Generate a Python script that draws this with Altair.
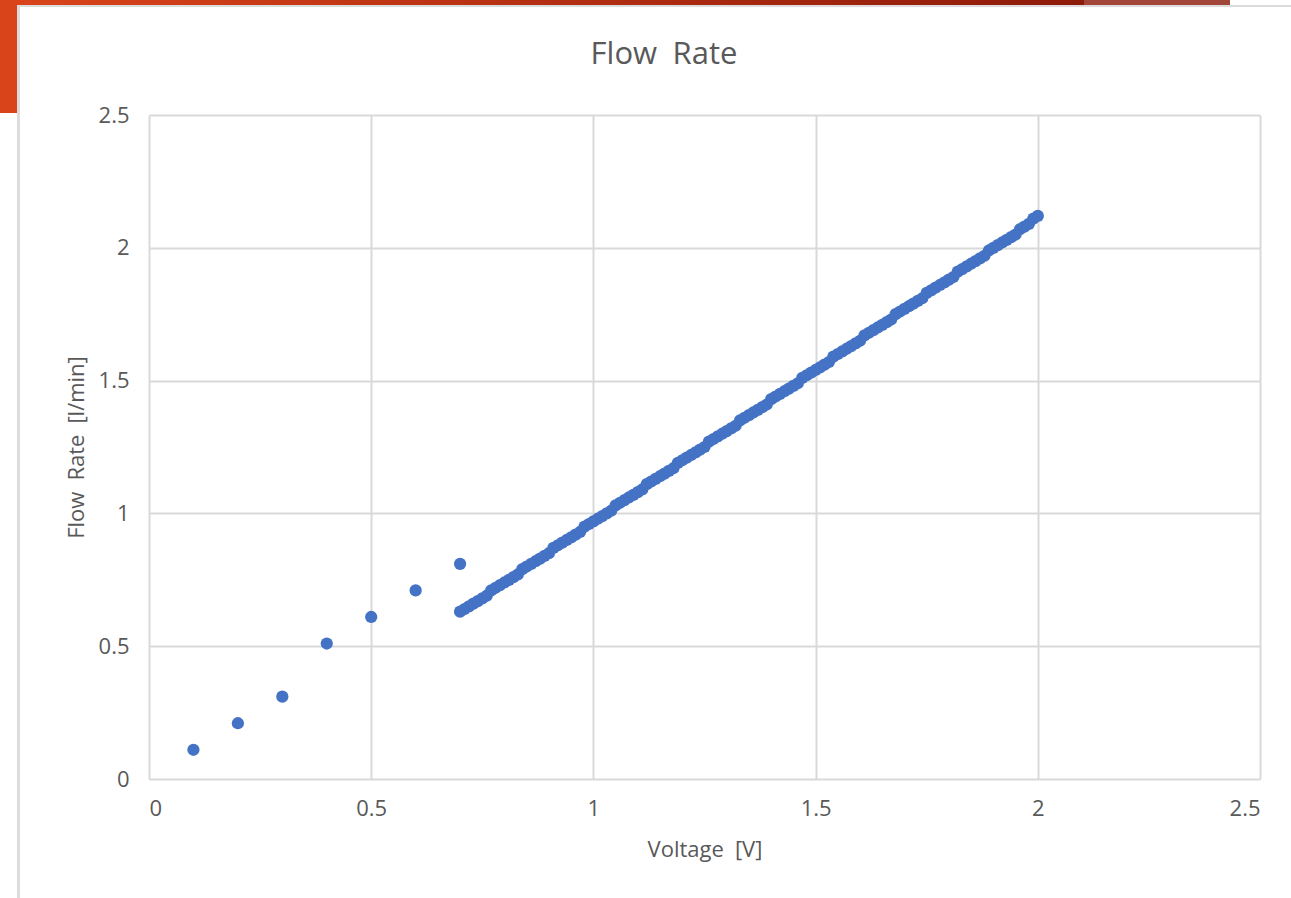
import altair as alt
import pandas as pd

# Low-voltage readings (sparse)
volt_low = [0.1, 0.2, 0.3, 0.4, 0.5, 0.6, 0.7]
flow_low = [0.11, 0.21, 0.31, 0.51, 0.61, 0.71, 0.81]

# Dense readings, 0.70 V to 2.00 V
volt_hi = [
    0.70, 0.71, 0.72, 0.73, 0.74, 0.75, 0.76, 0.77, 0.78, 0.79,
    0.80, 0.81, 0.82, 0.83, 0.84, 0.85, 0.86, 0.87, 0.88, 0.89,
    0.90, 0.91, 0.92, 0.93, 0.94, 0.95, 0.96, 0.97, 0.98, 0.99,
    1.00, 1.01, 1.02, 1.03, 1.04, 1.05, 1.06, 1.07, 1.08, 1.09,
    1.10, 1.11, 1.12, 1.13, 1.14, 1.15, 1.16, 1.17, 1.18, 1.19,
    1.20, 1.21, 1.22, 1.23, 1.24, 1.25, 1.26, 1.27, 1.28, 1.29,
    1.30, 1.31, 1.32, 1.33, 1.34, 1.35, 1.36, 1.37, 1.38, 1.39,
    1.40, 1.41, 1.42, 1.43, 1.44, 1.45, 1.46, 1.47, 1.48, 1.49,
    1.50, 1.51, 1.52, 1.53, 1.54, 1.55, 1.56, 1.57, 1.58, 1.59,
    1.60, 1.61, 1.62, 1.63, 1.64, 1.65, 1.66, 1.67, 1.68, 1.69,
    1.70, 1.71, 1.72, 1.73, 1.74, 1.75, 1.76, 1.77, 1.78, 1.79,
    1.80, 1.81, 1.82, 1.83, 1.84, 1.85, 1.86, 1.87, 1.88, 1.89,
    1.90, 1.91, 1.92, 1.93, 1.94, 1.95, 1.96, 1.97, 1.98, 1.99,
    2.00,
]
flow_hi = [
    0.63, 0.64, 0.65, 0.66, 0.67, 0.68, 0.69, 0.71, 0.72, 0.73,
    0.74, 0.75, 0.76, 0.77, 0.79, 0.80, 0.81, 0.82, 0.83, 0.84,
    0.85, 0.87, 0.88, 0.89, 0.90, 0.91, 0.92, 0.93, 0.95, 0.96,
    0.97, 0.98, 0.99, 1.00, 1.01, 1.03, 1.04, 1.05, 1.06, 1.07,
    1.08, 1.09, 1.11, 1.12, 1.13, 1.14, 1.15, 1.16, 1.17, 1.19,
    1.20, 1.21, 1.22, 1.23, 1.24, 1.25, 1.27, 1.28, 1.29, 1.30,
    1.31, 1.32, 1.33, 1.35, 1.36, 1.37, 1.38, 1.39, 1.40, 1.41,
    1.43, 1.44, 1.45, 1.46, 1.47, 1.48, 1.49, 1.51, 1.52, 1.53,
    1.54, 1.55, 1.56, 1.57, 1.59, 1.60, 1.61, 1.62, 1.63, 1.64,
    1.65, 1.67, 1.68, 1.69, 1.70, 1.71, 1.72, 1.73, 1.75, 1.76,
    1.77, 1.78, 1.79, 1.80, 1.81, 1.83, 1.84, 1.85, 1.86, 1.87,
    1.88, 1.89, 1.91, 1.92, 1.93, 1.94, 1.95, 1.96, 1.97, 1.99,
    2.00, 2.01, 2.02, 2.03, 2.04, 2.05, 2.07, 2.08, 2.09, 2.11,
    2.12,
]

axis_ticks = [0, 0.5, 1, 1.5, 2, 2.5]
chart_title = ["Flow\u2002Rate"]
x_title = "Voltage\u2002[V]"
y_title = "Flow\u2002Rate\u2002[l/min]"

df = pd.DataFrame({
    "Voltage": volt_low + volt_hi,
    "Flow": flow_low + flow_hi,
})

FONT = "Open Sans"
GRAY_TXT = "#595959"
GRID = "#d9d9d9"

one = alt.Data(values=[{"k": 0}])

# Slide decorations (screenshot background)
left_bar = alt.Chart(one).mark_rect(color="#D9441A").encode(
    x=alt.value(-149), x2=alt.value(-132), y=alt.value(-115), y2=alt.value(-2)
)
top_band = alt.Chart(one).mark_rect(
    color=alt.LinearGradient(
        gradient="linear",
        stops=[alt.GradientStop(color="#D9441A", offset=0),
               alt.GradientStop(color="#8E1A0A", offset=1)],
        x1=0, x2=1, y1=0, y2=0,
    )
).encode(x=alt.value(-132), x2=alt.value(935), y=alt.value(-115), y2=alt.value(-110))
top_band2 = alt.Chart(one).mark_rect(color="#A3463A").encode(
    x=alt.value(935), x2=alt.value(1081), y=alt.value(-115), y2=alt.value(-110)
)
border_v = alt.Chart(one).mark_rule(color="#dcdcdc", strokeWidth=3).encode(
    x=alt.value(-130.5), y=alt.value(-110), y2=alt.value(783)
)
border_h = alt.Chart(one).mark_rule(color="#dcdcdc", strokeWidth=2).encode(
    x=alt.value(-132), x2=alt.value(1142), y=alt.value(-109)
)

title_mark = alt.Chart(alt.Data(values=[{"t": t} for t in chart_title])).mark_text(
    font=FONT, fontSize=31, color=GRAY_TXT, align="center", baseline="middle"
).encode(text="t:N", x=alt.value(515), y=alt.value(-60))

points = alt.Chart(df).mark_circle(size=150, opacity=1, color="#4472C4").encode(
    x=alt.X(
        "Voltage:Q",
        scale=alt.Scale(domain=[0, 2.5], nice=False),
        axis=alt.Axis(
            values=axis_ticks, format="~g", title=x_title,
            grid=True, gridColor=GRID, gridWidth=2, domain=False, ticks=False,
            labelColor=GRAY_TXT, labelFontSize=22, labelFont=FONT, labelPadding=19,
            titleColor=GRAY_TXT, titleFontSize=22, titleFont=FONT, titleFontWeight="normal",
            titlePadding=20,
        ),
    ),
    y=alt.Y(
        "Flow:Q",
        scale=alt.Scale(domain=[0, 2.5], nice=False),
        axis=alt.Axis(
            values=axis_ticks, format="~g", title=y_title,
            grid=True, gridColor=GRID, gridWidth=2, domain=False, ticks=False,
            labelColor=GRAY_TXT, labelFontSize=22, labelFont=FONT, labelPadding=20,
            titleColor=GRAY_TXT, titleFontSize=22, titleFont=FONT, titleFontWeight="normal",
            titlePadding=10,
        ),
    ),
)

chart = alt.layer(left_bar, top_band, top_band2, border_v, border_h, title_mark, points).properties(
    width=1111,
    height=664,
    autosize=alt.AutoSizeParams(type="none"),
    padding={"left": 149, "top": 115, "right": 31, "bottom": 119},
    background="white",
).configure_view(stroke=None)

chart.save("out.html", embed_options={"renderer": "svg", "actions": False})
